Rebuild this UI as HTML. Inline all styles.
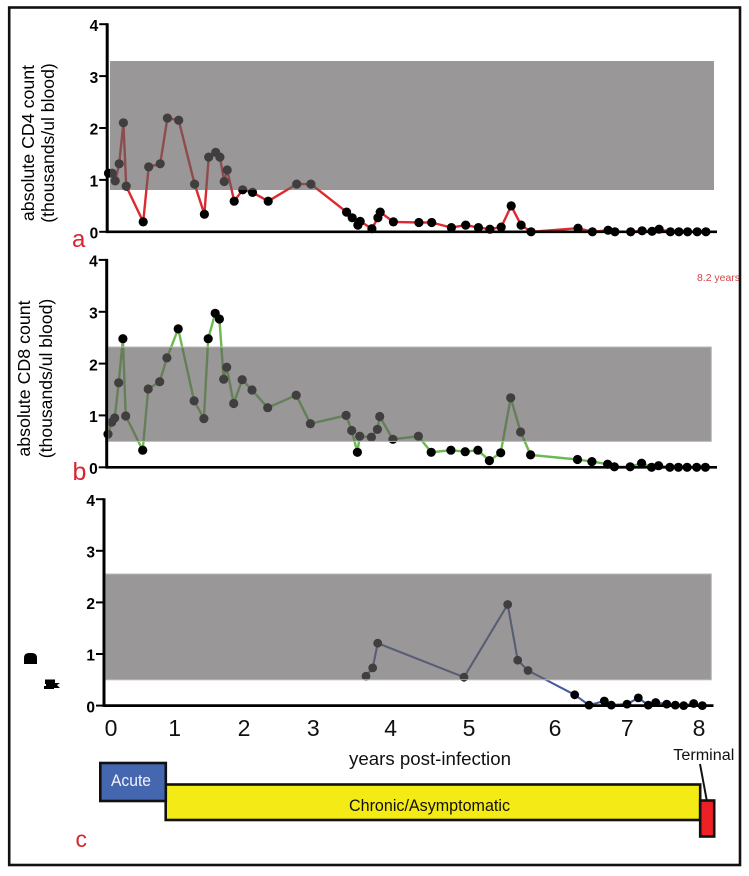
<!DOCTYPE html>
<html lang="en">
<head>
<meta charset="utf-8">
<title>CD4 and CD8 counts, years post-infection</title>
<style>
  html, body { margin: 0; padding: 0; background: #fff; }
  svg { display: block; font-family: "Liberation Sans", sans-serif; }
</style>
</head>
<body>
<svg id="figure" xmlns="http://www.w3.org/2000/svg" width="749" height="876" viewBox="0 0 749 876">
  <rect x="0" y="0" width="749" height="876" fill="#ffffff"/>
  <g id="panels"></g>

  <text transform="translate(34,143) rotate(-90)" text-anchor="middle" font-size="17.8" fill="#000">absolute CD4 count</text>
  <text transform="translate(54,143) rotate(-90)" text-anchor="middle" font-size="17.6" fill="#000">(thousands/ul blood)</text>
  <text transform="translate(30,378.5) rotate(-90)" text-anchor="middle" font-size="17.8" fill="#000">absolute CD8 count</text>
  <text transform="translate(52,378.5) rotate(-90)" text-anchor="middle" font-size="17.6" fill="#000">(thousands/ul blood)</text>

  <path d="M24 664 V658 Q24 653 29 653 H32 Q37 653 37 658 V664 Z" fill="#000"/>
  <path d="M45 679.5 H55 V683 H60 L57 685 L60 688 H54 V689 H44 V686 H46 V684 H45 Z" fill="#000"/>

  <text x="72" y="247" font-size="24" fill="#d9242f">a</text>
  <text x="72.5" y="480" font-size="25" fill="#d9242f">b</text>
  <text x="75.5" y="847" font-size="23" fill="#d9242f">c</text>
  <text x="697" y="281" font-size="10.5" fill="#d8434c" textLength="43" lengthAdjust="spacingAndGlyphs">8.2 years</text>

  <g font-size="23" text-anchor="middle" fill="#111">
    <text x="111" y="736">0</text>
    <text x="174.7" y="736">1</text>
    <text x="244" y="736">2</text>
    <text x="313.3" y="736">3</text>
    <text x="390.7" y="736">4</text>
    <text x="469" y="736">5</text>
    <text x="555" y="736">6</text>
    <text x="627.3" y="736">7</text>
    <text x="699" y="736">8</text>
  </g>
  <text x="349" y="765" font-size="18.5" fill="#111" textLength="162" lengthAdjust="spacingAndGlyphs">years post-infection</text>

  <rect x="165.7" y="784.5" width="534.5" height="35.5" fill="#f4ea15" stroke="#111" stroke-width="2.6"/>
  <rect x="100.3" y="763" width="65.5" height="38" fill="#4467b0" stroke="#111" stroke-width="2.6"/>
  <rect x="700.2" y="800.5" width="14" height="36" fill="#ee2026" stroke="#111" stroke-width="2.6"/>
  <text x="111" y="786" font-size="16.5" fill="#f2f4fa" textLength="40" lengthAdjust="spacingAndGlyphs">Acute</text>
  <text x="349" y="811" font-size="16.5" fill="#111" textLength="161" lengthAdjust="spacingAndGlyphs">Chronic/Asymptomatic</text>
  <text x="673.3" y="760" font-size="15.5" fill="#111" textLength="61" lengthAdjust="spacingAndGlyphs">Terminal</text>
  <line x1="700" y1="764" x2="706.7" y2="800" stroke="#111" stroke-width="2"/>

  <rect x="9.2" y="7.5" width="730.8" height="857.5" fill="none" stroke="#111" stroke-width="2.6"/>
</svg>
<script>
// Years post-infection shared by the CD4 and CD8 series
const years = [0.018,0.068,0.11,0.164,0.222,0.26,0.493,0.568,0.726,0.825,0.979,1.197,1.332,1.39,1.486,1.544,1.603,1.644,1.74,1.856,1.99,2.205,2.596,2.79,3.279,3.356,3.434,3.466,3.626,3.708,3.74,3.92,4.27,4.445,4.715,4.911,5.085,5.242,5.397,5.534,5.67,5.807,6.449,6.647,6.862,6.955,7.171,7.327,7.464,7.56,7.715,7.832,7.951,8.082,8.201];
// Absolute CD4 count (thousands/ul blood)
const cd4Counts = [1.13,1.13,0.98,1.31,2.1,0.88,0.19,1.25,1.31,2.19,2.15,0.92,0.34,1.44,1.53,1.44,0.97,1.19,0.59,0.81,0.76,0.59,0.92,0.92,0.38,0.27,0.13,0.2,0.06,0.27,0.38,0.19,0.18,0.18,0.08,0.13,0.08,0.05,0.09,0.5,0.13,0,0.07,0,0.03,0,0,0.02,0.01,0.05,0,0,0,0,0];
// Absolute CD8 count (thousands/ul blood)
const cd8Counts = [0.64,0.87,0.95,1.63,2.48,0.99,0.33,1.51,1.65,2.11,2.67,1.28,0.94,2.48,2.97,2.86,1.7,1.93,1.23,1.69,1.49,1.15,1.39,0.84,1,0.71,0.29,0.6,0.58,0.73,0.98,0.54,0.6,0.29,0.33,0.3,0.33,0.13,0.28,1.34,0.68,0.24,0.15,0.11,0.06,0.01,0.01,0.08,0,0.03,0,0,0,0,0];
// Third panel (its axis title is illegible in the source)
const thirdYears = [3.589,3.681,3.749,4.932,5.53,5.667,5.808,6.448,6.644,6.853,6.949,7.164,7.319,7.456,7.558,7.708,7.826,7.941,8.078,8.196];
const thirdCounts = [0.57,0.73,1.21,0.55,1.96,0.88,0.68,0.21,0.01,0.09,0.01,0.03,0.15,0.01,0.06,0.03,0.01,0,0.04,0];
// Y axis tick values and printed labels
const yTickValues = [0,1,2,3,4];
const yTickLabels = ['0','1','2','3','4'];

const SVG_NS = 'http://www.w3.org/2000/svg';
const panelsRoot = document.getElementById('panels');

function makeEl(tag, parent) {
  const el = document.createElementNS(SVG_NS, tag);
  parent.appendChild(el);
  return el;
}

function drawPanel(cfg, xs, ys) {
  const xScale = v => cfg.x0 + v * cfg.pxPerYear;
  const yScale = v => cfg.y0 - v * cfg.pxPerUnit;

  const group = makeEl('g', panelsRoot);
  
  

  const line = makeEl('polyline', group);
  line.setAttribute('points', xs.map((x, i) => xScale(x).toFixed(1) + ',' + yScale(ys[i]).toFixed(1)).join(' '));
  line.setAttribute('fill', 'none');
  line.setAttribute('stroke', cfg.color);
  line.setAttribute('stroke-width', cfg.lineWidth);
  line.setAttribute('stroke-linejoin', 'round');
  
  

  xs.forEach((x, i) => {
    const dot = makeEl('circle', group);
    dot.setAttribute('cx', xScale(x).toFixed(1));
    dot.setAttribute('cy', yScale(ys[i]).toFixed(1));
    dot.setAttribute('r', cfg.dotRadius);
    dot.setAttribute('fill', '#000');
    
    
  });

  // Translucent normal-range band sits above the series, dimming what it covers
  const band = makeEl('rect', group);
  band.setAttribute('x', cfg.bandX0);
  band.setAttribute('width', cfg.bandX1 - cfg.bandX0);
  band.setAttribute('y', yScale(cfg.bandHigh).toFixed(1));
  band.setAttribute('height', (yScale(cfg.bandLow) - yScale(cfg.bandHigh)).toFixed(1));
  band.setAttribute('fill', 'rgb(98,95,96)');
  band.setAttribute('fill-opacity', '0.65');
  band.setAttribute('stroke', cfg.bandEdge);
  band.setAttribute('stroke-width', '1');
  
  

  const yAxis = makeEl('line', group);
  yAxis.setAttribute('x1', cfg.x0);
  yAxis.setAttribute('x2', cfg.x0);
  yAxis.setAttribute('y1', yScale(4) - 1);
  yAxis.setAttribute('y2', cfg.y0 + 1.3);
  yAxis.setAttribute('stroke', '#000');
  yAxis.setAttribute('stroke-width', '3');
  
  

  const xAxis = makeEl('line', group);
  xAxis.setAttribute('x1', cfg.x0);
  xAxis.setAttribute('x2', cfg.axisEnd);
  xAxis.setAttribute('y1', cfg.y0);
  xAxis.setAttribute('y2', cfg.y0);
  xAxis.setAttribute('stroke', '#000');
  xAxis.setAttribute('stroke-width', '2.7');
  
  

  yTickValues.forEach((t, i) => {
    const tick = makeEl('line', group);
    tick.setAttribute('x1', cfg.x0 - 8);
    tick.setAttribute('x2', cfg.x0);
    tick.setAttribute('y1', yScale(t).toFixed(1));
    tick.setAttribute('y2', yScale(t).toFixed(1));
    tick.setAttribute('stroke', '#000');
    tick.setAttribute('stroke-width', '2');
    
    

    const label = makeEl('text', group);
    label.setAttribute('x', cfg.x0 - 9);
    label.setAttribute('y', (yScale(t) + 6.7).toFixed(1));
    label.setAttribute('text-anchor', 'end');
    label.setAttribute('font-size', '15.5');
    label.setAttribute('font-weight', 'bold');
    label.setAttribute('fill', '#000');
    
    
    label.textContent = yTickLabels[i];
  });
}

drawPanel({
  name: 'cd4', color: '#dd2a30', lineWidth: 2.4, dotRadius: 4.6,
  x0: 107.2, y0: 231.8, pxPerYear: 73, pxPerUnit: 51.9, axisEnd: 717,
  bandX0: 110, bandX1: 714, bandLow: 0.805, bandHigh: 3.29, bandEdge: 'none'
}, years, cd4Counts);

drawPanel({
  name: 'cd8', color: '#6cb94f', lineWidth: 2.4, dotRadius: 4.6,
  x0: 106.7, y0: 467.3, pxPerYear: 73, pxPerUnit: 51.85, axisEnd: 717,
  bandX0: 108, bandX1: 711.3, bandLow: 0.5, bandHigh: 2.32, bandEdge: '#b9b8b8'
}, years, cd8Counts);

drawPanel({
  name: 'third', color: '#465a9d', lineWidth: 2.1, dotRadius: 4.4,
  x0: 104, y0: 705.6, pxPerYear: 73, pxPerUnit: 51.6, axisEnd: 713.5,
  bandX0: 105.5, bandX1: 711.3, bandLow: 0.5, bandHigh: 2.55, bandEdge: '#b9b8b8'
}, thirdYears, thirdCounts);
</script>
</body>
</html>
